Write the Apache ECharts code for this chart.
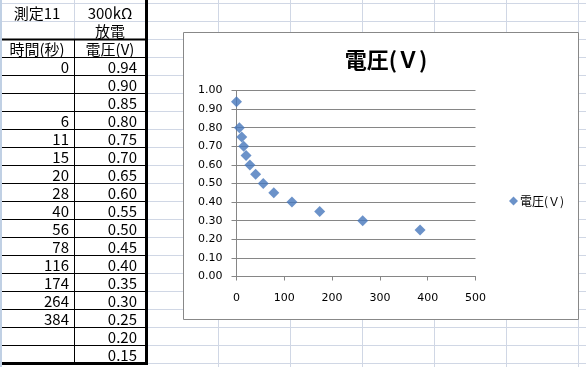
<!DOCTYPE html>
<html><head><meta charset="utf-8">
<script src="https://cdn.jsdelivr.net/npm/echarts@6/dist/echarts.min.js"></script>
<style>html,body{margin:0;padding:0;background:#fff}#c{width:586px;height:367px}</style>
</head><body><div id="c"></div>
<script>
// ---- data ----
const headerRow1 = ['測定11', '300kΩ'];
const headerRow2 = ['', '放電'];
const headerRow3 = ['時間(秒)', '電圧(V)'];
const tableTimes = [0, null, null, 6, 11, 15, 20, 28, 40, 56, 78, 116, 174, 264, 384, null, null];
const tableVolts = [0.94, 0.90, 0.85, 0.80, 0.75, 0.70, 0.65, 0.60, 0.55, 0.50, 0.45, 0.40, 0.35, 0.30, 0.25, 0.20, 0.15];
const chartTitle = '電圧(Ｖ)';
const seriesName = '電圧(Ｖ)';
const xMin = 0, xMax = 500, xStep = 100;
const yMin = 0, yMax = 1, yStep = 0.1;

const points = [];
tableTimes.forEach((t, i) => { if (t !== null) points.push([t, tableVolts[i]]); });

// ---- spreadsheet background ----
const ROW0 = 3.5, RH = 18;
const gfx = [];
const light = '#d0d7e5';
const nRows = 21;
for (let k = 0; k < nRows; k++) {
  const y = ROW0 + RH * k;
  if (y > 367) break;
  gfx.push({type:'line', z:-20, silent:true, shape:{x1:148, y1:y, x2:586, y2:y}, style:{stroke:light, lineWidth:1}});
  if (k < 2) gfx.push({type:'line', z:-20, silent:true, shape:{x1:0, y1:y, x2:147, y2:y}, style:{stroke:light, lineWidth:1}});
}
[218.5, 290.5, 362.5, 434.5, 506.5, 578.5].forEach(x => {
  gfx.push({type:'line', z:-20, silent:true, shape:{x1:x, y1:0, x2:x, y2:367}, style:{stroke:light, lineWidth:1}});
});
gfx.push({type:'line', z:-20, silent:true, shape:{x1:1, y1:0, x2:1, y2:367}, style:{stroke:'#c0d0e4', lineWidth:2}});
gfx.push({type:'line', z:-20, silent:true, shape:{x1:74.5, y1:0, x2:74.5, y2:39}, style:{stroke:light, lineWidth:1}});
const tableTop = ROW0 + RH * 2;
const tableBottom = ROW0 + RH * 20;
gfx.push({type:'line', z:-10, silent:true, shape:{x1:2, y1:tableTop, x2:147, y2:tableTop}, style:{stroke:'#000', lineWidth:2}});
for (let k = 3; k < 20; k++) {
  const y = ROW0 + RH * k;
  gfx.push({type:'line', z:-10, silent:true, shape:{x1:2, y1:y, x2:147, y2:y}, style:{stroke:'#000', lineWidth:1}});
}
gfx.push({type:'line', z:-10, silent:true, shape:{x1:2, y1:tableBottom, x2:148, y2:tableBottom}, style:{stroke:'#000', lineWidth:3}});
gfx.push({type:'line', z:-10, silent:true, shape:{x1:74.5, y1:tableTop, x2:74.5, y2:tableBottom}, style:{stroke:'#000', lineWidth:1}});
gfx.push({type:'line', z:-10, silent:true, shape:{x1:146.5, y1:0, x2:146.5, y2:365}, style:{stroke:'#000', lineWidth:3}});

const tFont = '15px "Noto Sans CJK JP", sans-serif';
function cellText(txt, x, rowIdx, align) {
  const bottom = ROW0 + RH * (rowIdx + 1);
  gfx.push({type:'text', z:-5, silent:true, x:x, y:bottom - 8,
    style:{text:txt, font:tFont, fill:'#000', textAlign:align, textVerticalAlign:'middle'}});
}
[headerRow1, headerRow2, headerRow3].forEach((row, r) => {
  if (row[0]) cellText(row[0], 37, r, 'center');
  if (row[1]) cellText(row[1], 110, r, 'center');
});
tableVolts.forEach((v, i) => {
  const r = i + 3;
  if (tableTimes[i] !== null) cellText(String(tableTimes[i]), 69, r, 'right');
  cellText(v.toFixed(2), 137, r, 'right');
});
gfx.push({type:'rect', z:-5, silent:true, shape:{x:183.5, y:32.5, width:395, height:287}, style:{fill:'#fff', stroke:'#888', lineWidth:1}});

const axisFont = 'DejaVu Sans';
const chart = echarts.init(document.getElementById('c'), null, {renderer:'canvas'});
chart.setOption({
  animation:false,
  graphic: gfx,
  title: {text: chartTitle, left: 381, top: 44, textAlign:'center',
    textStyle:{fontFamily:'"Noto Sans CJK JP"', fontSize:22, fontWeight:'bold', color:'#000'}},
  legend: {data:[seriesName], left: 504, top: 190, icon:'diamond', itemWidth:9, itemHeight:9, itemGap:0,
    textStyle:{fontFamily:'"Noto Sans CJK JP"', fontSize:12, color:'#000', padding:[0,0,0,-3]}},
  grid: {left:236.5, top:90.5, width:239, height:186, containLabel:false},
  xAxis: {type:'value', min:xMin, max:xMax, interval:xStep,
    axisLine:{show:true, lineStyle:{color:'#868686'}},
    axisTick:{show:true, inside:false, length:4, lineStyle:{color:'#868686'}},
    axisLabel:{margin:16, fontFamily:axisFont, fontSize:11, color:'#000'},
    splitLine:{show:false}},
  yAxis: {type:'value', min:yMin, max:yMax, interval:yStep,
    axisLine:{show:true, lineStyle:{color:'#868686'}},
    axisTick:{show:true, inside:false, length:5, lineStyle:{color:'#868686'}},
    axisLabel:{margin:14, fontFamily:axisFont, fontSize:11, color:'#000', formatter: v => v.toFixed(2)},
    splitLine:{show:true, lineStyle:{color:'#868686'}}},
  series: [{name: seriesName, type:'scatter', symbol:'diamond', symbolSize:11,
    itemStyle:{color:'#4677bb'}, data: points}]
});
</script></body></html>
